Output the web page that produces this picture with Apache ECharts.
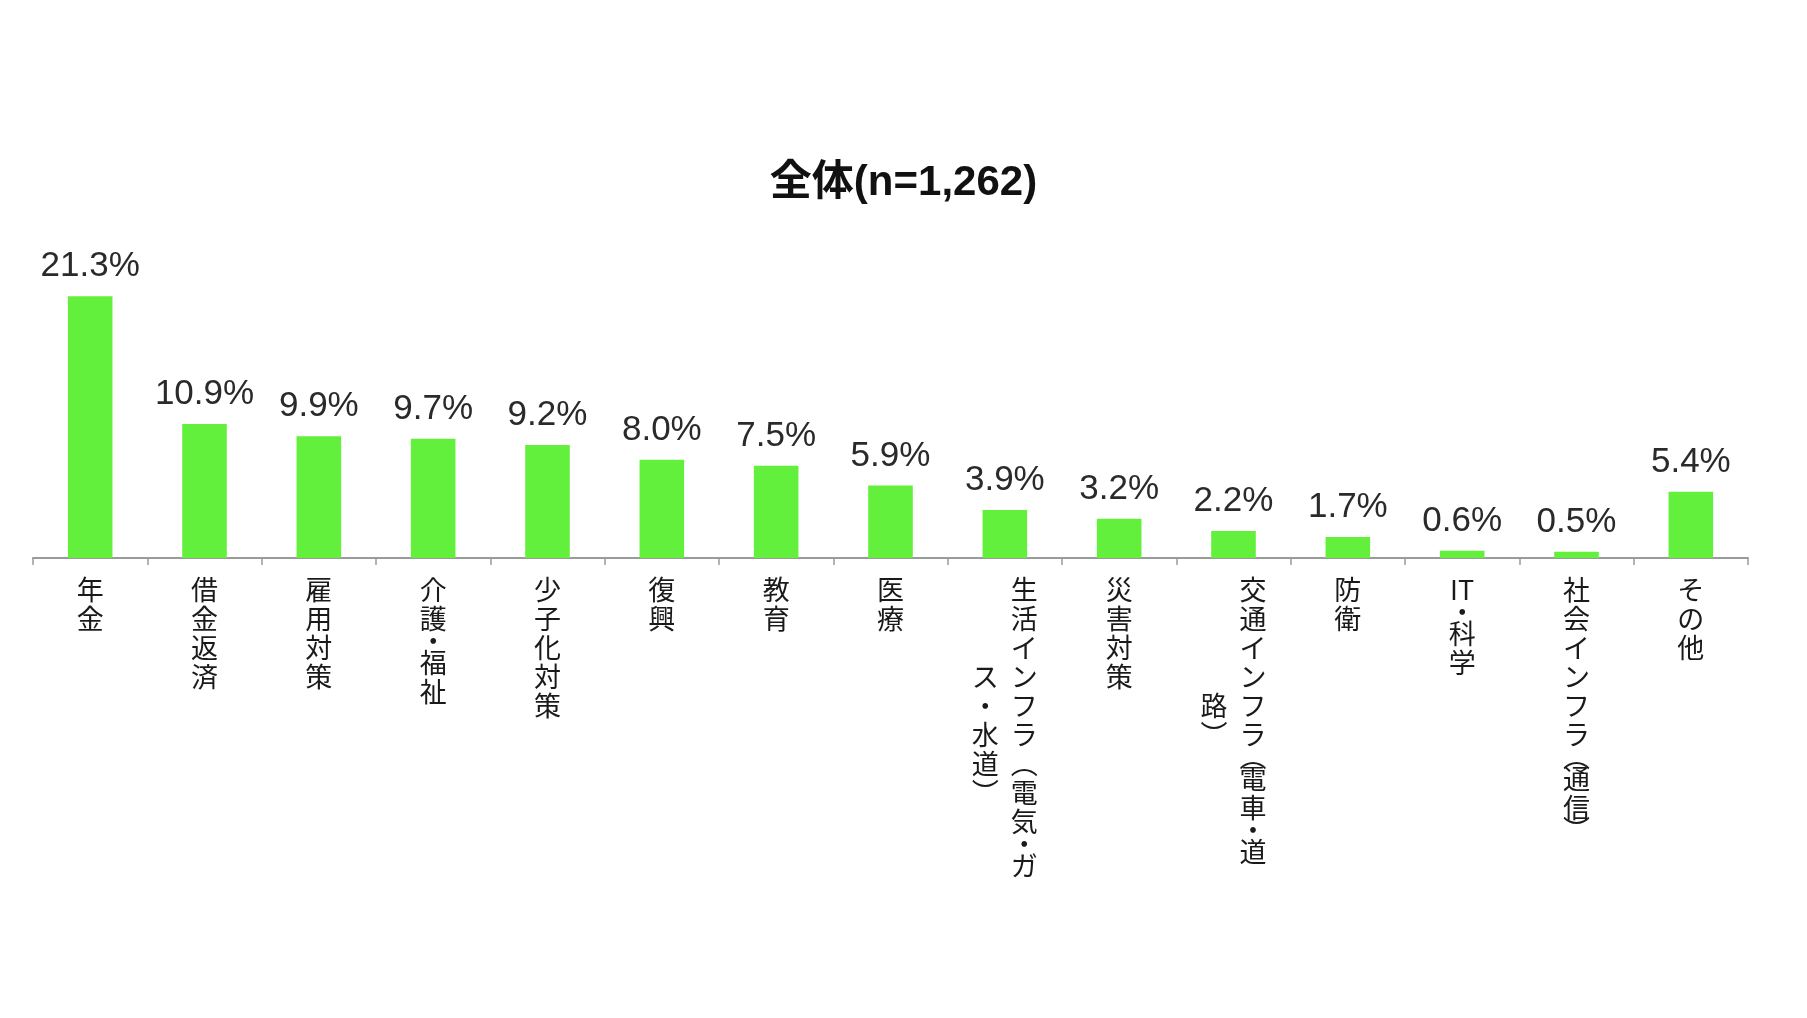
<!DOCTYPE html>
<html>
<head>
<meta charset="utf-8">
<script src="https://cdn.jsdelivr.net/npm/echarts@6/dist/echarts.min.js"></script>
<style>
html,body{margin:0;padding:0;background:#fff;}
#chart{width:1807px;height:1018px;}
</style>
</head>
<body>
<div id="chart"></div>
<script>
const titleText = '全体(n=1,262)';
const categories = ['年金','借金返済','雇用対策','介護・福祉','少子化対策','復興','教育','医療','生活インフラ（電気・ガス・水道）','災害対策','交通インフラ（電車・道路）','防衛','IT・科学','社会インフラ（通信）','その他'];
const values = [21.3,10.9,9.9,9.7,9.2,8.0,7.5,5.9,3.9,3.2,2.2,1.7,0.6,0.5,5.4];

const VERT = {'（':'︵','）':'︶','(':'︵',')':'︶'};
const COL_LEN = 11;
function tokens(s){
  const out=[]; let i=0;
  while(i<s.length){
    if(/[A-Za-z]/.test(s[i])){ let j=i; while(j<s.length && /[A-Za-z]/.test(s[j])) j++; out.push(s.slice(i,j)); i=j; }
    else { out.push(s[i]); i++; }
  }
  return out.map(t=>VERT[t]||t);
}
function isPunct(t){ return t==='・'||t==='︵'||t==='︶'; }
function frag(t){ if(!t) return '{e| }'; return '{'+(isPunct(t)?'p':'k')+'|'+t+'}'; }
function verticalLabel(value){
  const toks = tokens(value);
  const cols=[];
  for(let i=0;i<toks.length;i+=COL_LEN) cols.push(toks.slice(i,i+COL_LEN));
  const n = cols[0].length;
  const offs = cols.map(c=>Math.floor((n-c.length)/2));
  const lines=[];
  for(let r=0;r<n;r++){
    let line='';
    for(let c=cols.length-1;c>=0;c--){ line += frag(cols[c][r-offs[c]]); }
    lines.push(line);
  }
  return lines.join('\n');
}

const chart = echarts.init(document.getElementById('chart'));
const cjk = "'Noto Sans CJK JP', sans-serif";
chart.setOption({
  backgroundColor:'#ffffff',
  animation:false,
  title:{
    text:titleText,
    left:'center',
    top:157,
    textStyle:{fontSize:42,fontWeight:'bold',color:'#111',fontFamily:"'Liberation Sans', 'Noto Sans CJK JP', sans-serif"}
  },
  grid:{left:33,right:59,top:263,bottom:460,containLabel:false},
  xAxis:{
    type:'category',
    data:categories,
    axisLine:{show:true,lineStyle:{color:'#9a9a9a',width:2}},
    axisTick:{show:true,length:7,lineStyle:{color:'#9a9a9a',width:1.5}},
    axisLabel:{
      interval:0,
      margin:17,
      formatter:verticalLabel,
      rich:{
        k:{fontSize:27,lineHeight:29,width:39,align:'center',color:'#1a1a1a',fontFamily:cjk},
        p:{fontSize:27,lineHeight:15,width:39,align:'center',color:'#1a1a1a',fontFamily:cjk},
        e:{fontSize:27,lineHeight:15,width:39,align:'center',color:'#1a1a1a',fontFamily:cjk}
      }
    }
  },
  yAxis:{type:'value',min:0,max:24,show:false,splitLine:{show:false}},
  series:[{
    type:'bar',
    data:values,
    barWidth:'39%',
    itemStyle:{color:'#63f03c'},
    label:{
      show:true,
      position:'top',
      distance:12,
      formatter:p=>p.value.toFixed(1)+'%',
      fontSize:35,
      color:'#2a2a2a',
      fontFamily:"'Liberation Sans', Arial, sans-serif"
    }
  }]
});
</script>
</body>
</html>
